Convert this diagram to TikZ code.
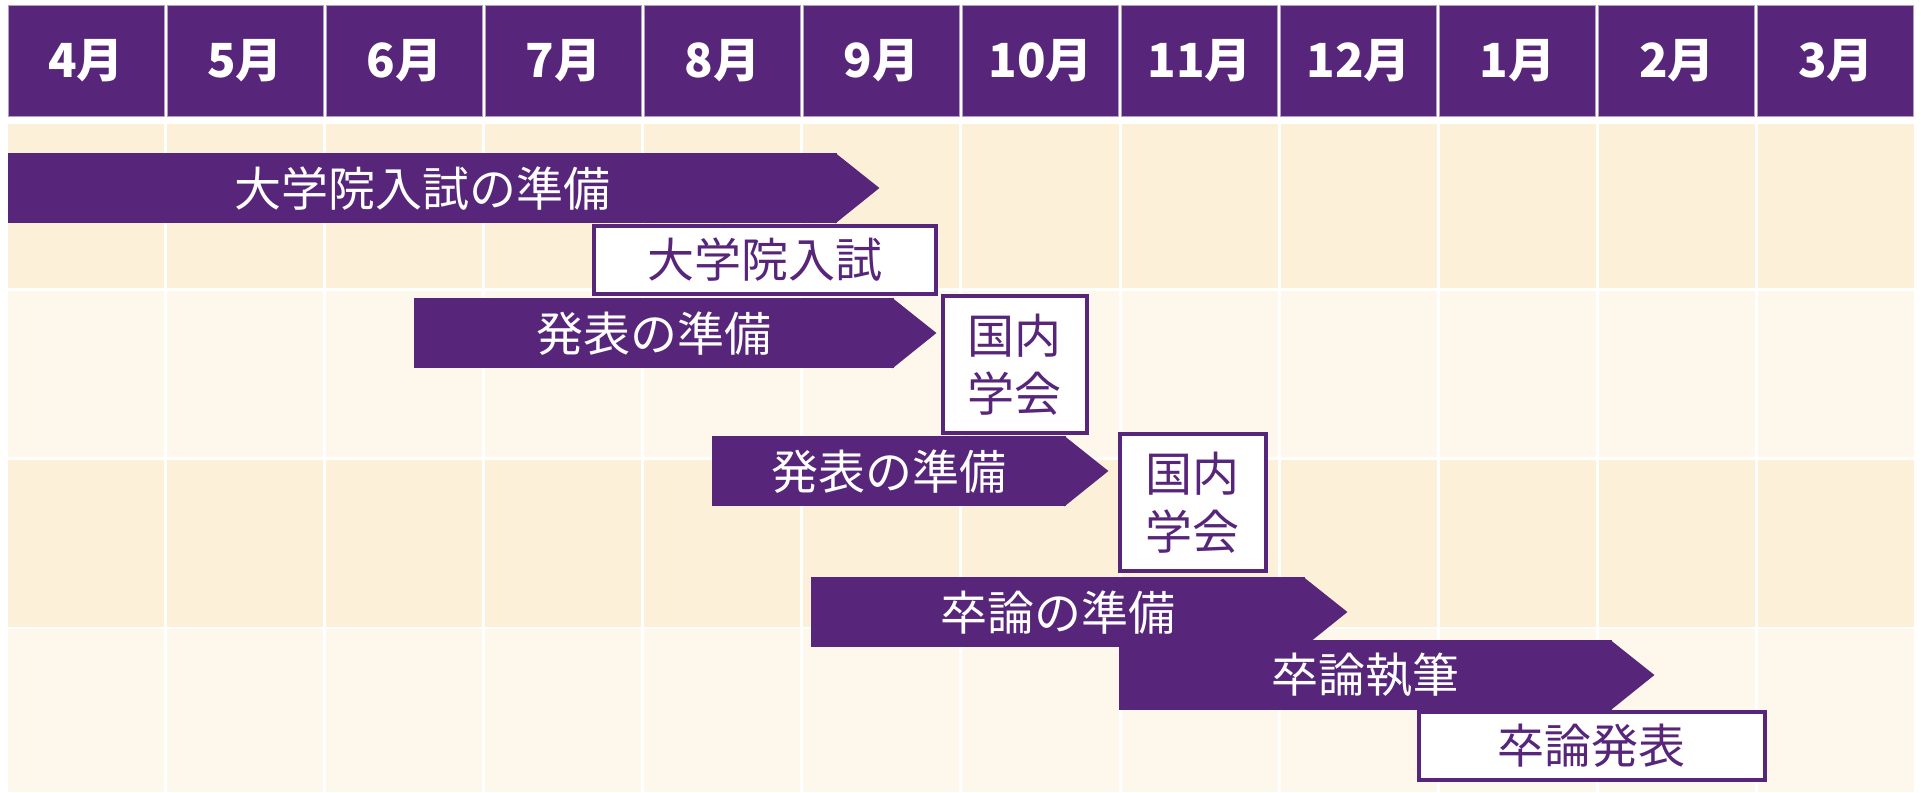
\documentclass[tikz,border=0pt]{standalone}
\usepackage{fontspec}
\setmainfont{Noto Sans CJK JP}
\usepackage{tikz}
\usetikzlibrary{positioning}
\definecolor{plum}{HTML}{57257A}
\definecolor{creamA}{HTML}{FDF0D9}
\definecolor{creamB}{HTML}{FEF7EB}

\begin{document}
\begin{tikzpicture}[x=1pt,y=-1pt]
	\tikzstyle{month} = [fill=plum, draw=plum!45, line width=1, text=white, font=\fontsize{47}{50}\selectfont\bfseries, minimum width=156, minimum height=110, inner sep=0]
	\tikzstyle{task} = [fill=plum, text=white, font=\fontsize{47}{58}\selectfont, minimum height=70, inner sep=0, anchor=north west]
	\tikzstyle{event} = [fill=white, draw=plum, line width=3.5, text=plum, font=\fontsize{47}{58}\selectfont, inner sep=0, anchor=north west, align=center]
	\useasboundingbox (0,0) rectangle (1921,792);
	\fill[white] (0,0) rectangle (1921,792);
	% month header and rows
	\foreach \m [count=\i from 0] in {4,5,6,7,8,9,10,11,12,1,2,3} {
		\node[month] (m\m) at ({86.04+159.08*\i}, 61) {\m 月};
		\foreach \top/\bot/\c in {124/288/creamA, 291/457/creamB, 460/627/creamA, 629/792/creamB}
			\fill[\c] ({8+159.08*\i}, \top) rectangle ({164.08+159.08*\i}, \bot);
	}
	% preparation bars
		\node[task, minimum width=829] (exprep) at (8,153) {大学院入試の準備};
		\node[task, minimum width=480] (talkprepA) at (414,298) {発表の準備};
		\node[task, minimum width=354] (talkprepB) at (712,436) {発表の準備};
		\node[task, minimum width=494] (thesisprep) at (811,577) {卒論の準備};
		\node[task, minimum width=493] (writing) at (1119,640) {卒論執筆};
	\foreach \n in {exprep, talkprepA, talkprepB, thesisprep, writing}
		\fill[plum] ([xshift=-2pt]\n.north east) -- ([xshift=42pt,yshift=-35pt]\n.north east) -- ([xshift=-2pt]\n.south east) -- cycle;
	% events
		\node[event, minimum width=342, minimum height=68] (exam) at (592,224) {大学院入試};
		\node[event, minimum width=144, minimum height=137] (confA) at (941,294) {国内\\学会};
		\node[event, minimum width=146, minimum height=137] (confB) at (1118,432) {国内\\学会};
		\node[event, minimum width=346, minimum height=68] (defense) at (1417,710) {卒論発表};
\end{tikzpicture}
\end{document}
